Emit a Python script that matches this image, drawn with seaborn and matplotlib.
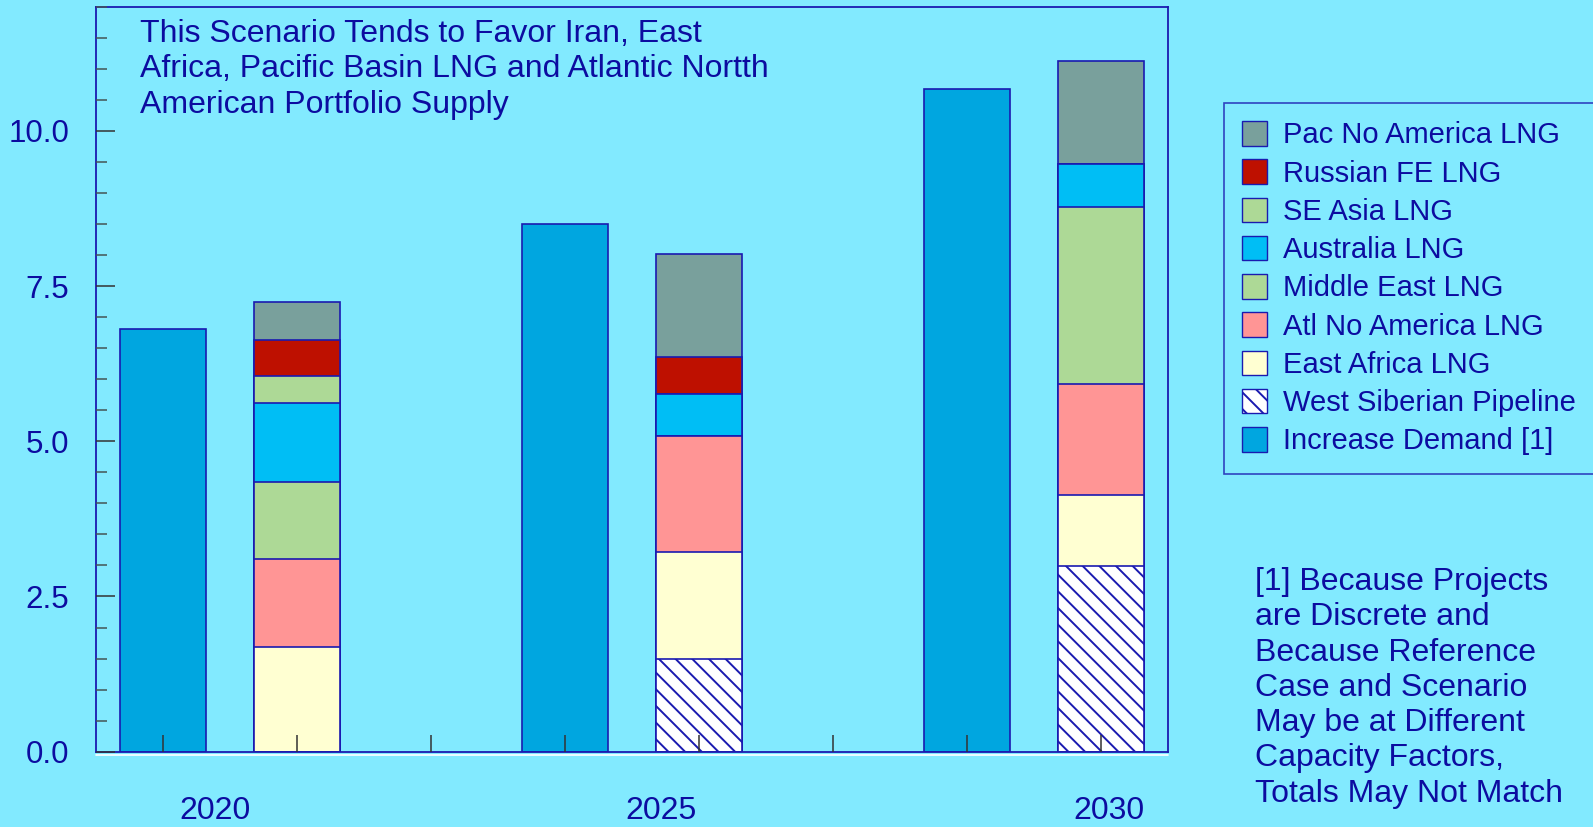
import pandas as pd
import matplotlib
matplotlib.use("Agg")
import matplotlib.pyplot as plt
from matplotlib.patches import Patch
import seaborn as sns

# DATA
years = ["2020", "2025", "2030"]
demand = [6.81, 8.50, 10.67]
west_siberian = [0.00, 1.49, 2.99]
east_africa = [1.69, 1.72, 1.14]
atl_no_america = [1.42, 1.88, 1.79]
middle_east = [1.24, 0.00, 2.86]
australia = [1.26, 0.67, 0.69]
se_asia = [0.44, 0.00, 0.00]
russian_fe = [0.58, 0.59, 0.00]
pac_no_america = [0.61, 1.66, 1.66]

title_text = ("This Scenario Tends to Favor Iran, East\n"
              "Africa, Pacific Basin LNG and Atlantic Nortth\n"
              "American Portfolio Supply")
note_text = ("[1] Because Projects\nare Discrete and\nBecause Reference\n"
             "Case and Scenario\nMay be at Different\nCapacity Factors,\n"
             "Totals May Not Match")

# STYLE
BG = "#82EAFF"
TXT = "#0C0CA0"
EDGE = "#1A1AB0"

sns.set_theme(style="ticks")
plt.rcParams["font.family"] = ["Liberation Sans", "DejaVu Sans"]
plt.rcParams["hatch.linewidth"] = 1.4

# slots: demand bar / supply bar per year, with an empty slot between years
slots = ["d2020", "s2020", "g1", "d2025", "s2025", "g2", "d2030", "s2030"]
demand_slots = ["d2020", "d2025", "d2030"]
supply_slots = ["s2020", "s2025", "s2030"]

# stack order, bottom to top
layers = [
    ("West Siberian Pipeline", west_siberian, "white", "\\\\"),
    ("East Africa LNG", east_africa, "#FFFFD2", None),
    ("Atl No America LNG", atl_no_america, "#FF9595", None),
    ("Middle East LNG", middle_east, "#ADD996", None),
    ("Australia LNG", australia, "#00BEF5", None),
    ("SE Asia LNG", se_asia, "#ADD996", None),
    ("Russian FE LNG", russian_fe, "#BE1000", None),
    ("Pac No America LNG", pac_no_america, "#79A09C", None),
]

supply = pd.DataFrame({"slot": supply_slots})
running = [0.0, 0.0, 0.0]
for name, vals, color, hatch in layers:
    running = [r + v for r, v in zip(running, vals)]
    supply[name] = running

demand_df = pd.DataFrame({"slot": demand_slots, "value": demand})

# FIGURE
fig = plt.figure(figsize=(15.93, 8.27), dpi=100, facecolor=BG)
ax = fig.add_axes([0.0601, 0.0911, 0.6731, 0.9008])
ax.set_facecolor(BG)

bar_w = 0.64
sns.barplot(data=demand_df, x="slot", y="value", order=slots, color="#00A6E0",
            saturation=1, width=bar_w, edgecolor=EDGE, linewidth=1.2,
            errorbar=None, ax=ax)

# draw cumulative totals from the top layer down so each layer covers the rest
for name, vals, color, hatch in reversed(layers):
    kw = {"hatch": hatch} if hatch else {}
    sns.barplot(data=supply, x="slot", y=name, order=slots, color=color,
                saturation=1, width=bar_w, edgecolor=EDGE, linewidth=1.2,
                errorbar=None, ax=ax, **kw)

ax.set_xlim(-0.5, 7.5)
ax.set_ylim(0, 12)
ax.set_xlabel("")
ax.set_ylabel("")
ax.set_axisbelow(False)

# ticks
ax.set_yticks([0, 2.5, 5, 7.5, 10])
ax.set_yticklabels(["0.0", "2.5", "5.0", "7.5", "10.0"])
ax.set_yticks([v * 0.5 for v in range(25)], minor=True)
ax.tick_params(axis="y", which="major", direction="in", length=14, width=1.1,
               color="#333333", labelsize=22.5, labelcolor=TXT, pad=19)
ax.tick_params(axis="y", which="minor", direction="in", length=8, width=1.1,
               color="#445555")
ax.set_xticks(range(8))
ax.set_xticklabels([""] * 8)
ax.tick_params(axis="x", which="major", direction="in", length=12, width=1.1,
               color="#333333")

for side in ["left", "right", "top", "bottom"]:
    ax.spines[side].set_visible(True)
    ax.spines[side].set_color(EDGE)
    ax.spines[side].set_linewidth(1.3)

# white highlight just under the x axis
ax.plot([0, 1], [-0.004, -0.004], transform=ax.transAxes, color="white",
        lw=1.2, clip_on=False)

# year labels under each pair of bars
year_x = [0.39, 3.72, 7.06]
for xv, yr in zip(year_x, years):
    ax.text(xv, -0.08, yr, transform=ax.get_xaxis_transform(), ha="center",
            va="center", fontsize=23, color=TXT)

fig.text(140 / 1593, 1 - 18.5 / 827, title_text, fontsize=23, color=TXT,
         va="top", ha="left", linespacing=1.24)

fig.text(1255 / 1593, 1 - 567 / 827, note_text,
         fontsize=23, color=TXT, va="top", ha="left", linespacing=1.23)

# LEGEND
handles = []
for name, vals, color, hatch in reversed(layers):
    handles.append(Patch(facecolor=color, edgecolor=EDGE, hatch=hatch, label=name))
handles.append(Patch(facecolor="#00A6E0", edgecolor=EDGE, label="Increase Demand [1]"))

leg = fig.legend(handles=handles, loc="upper left",
                 bbox_to_anchor=(1224 / 1593, 1 - 103 / 827),
                 frameon=True, fancybox=False, shadow=False, fontsize=21,
                 handlelength=0.86, handleheight=0.92, handletextpad=0.55,
                 labelspacing=0.34, borderpad=0.62, borderaxespad=0)
leg.get_frame().set_facecolor(BG)
leg.get_frame().set_edgecolor(EDGE)
leg.get_frame().set_linewidth(1.2)
for t in leg.get_texts():
    t.set_color(TXT)

fig.savefig("out.png", dpi=100, facecolor=BG)
